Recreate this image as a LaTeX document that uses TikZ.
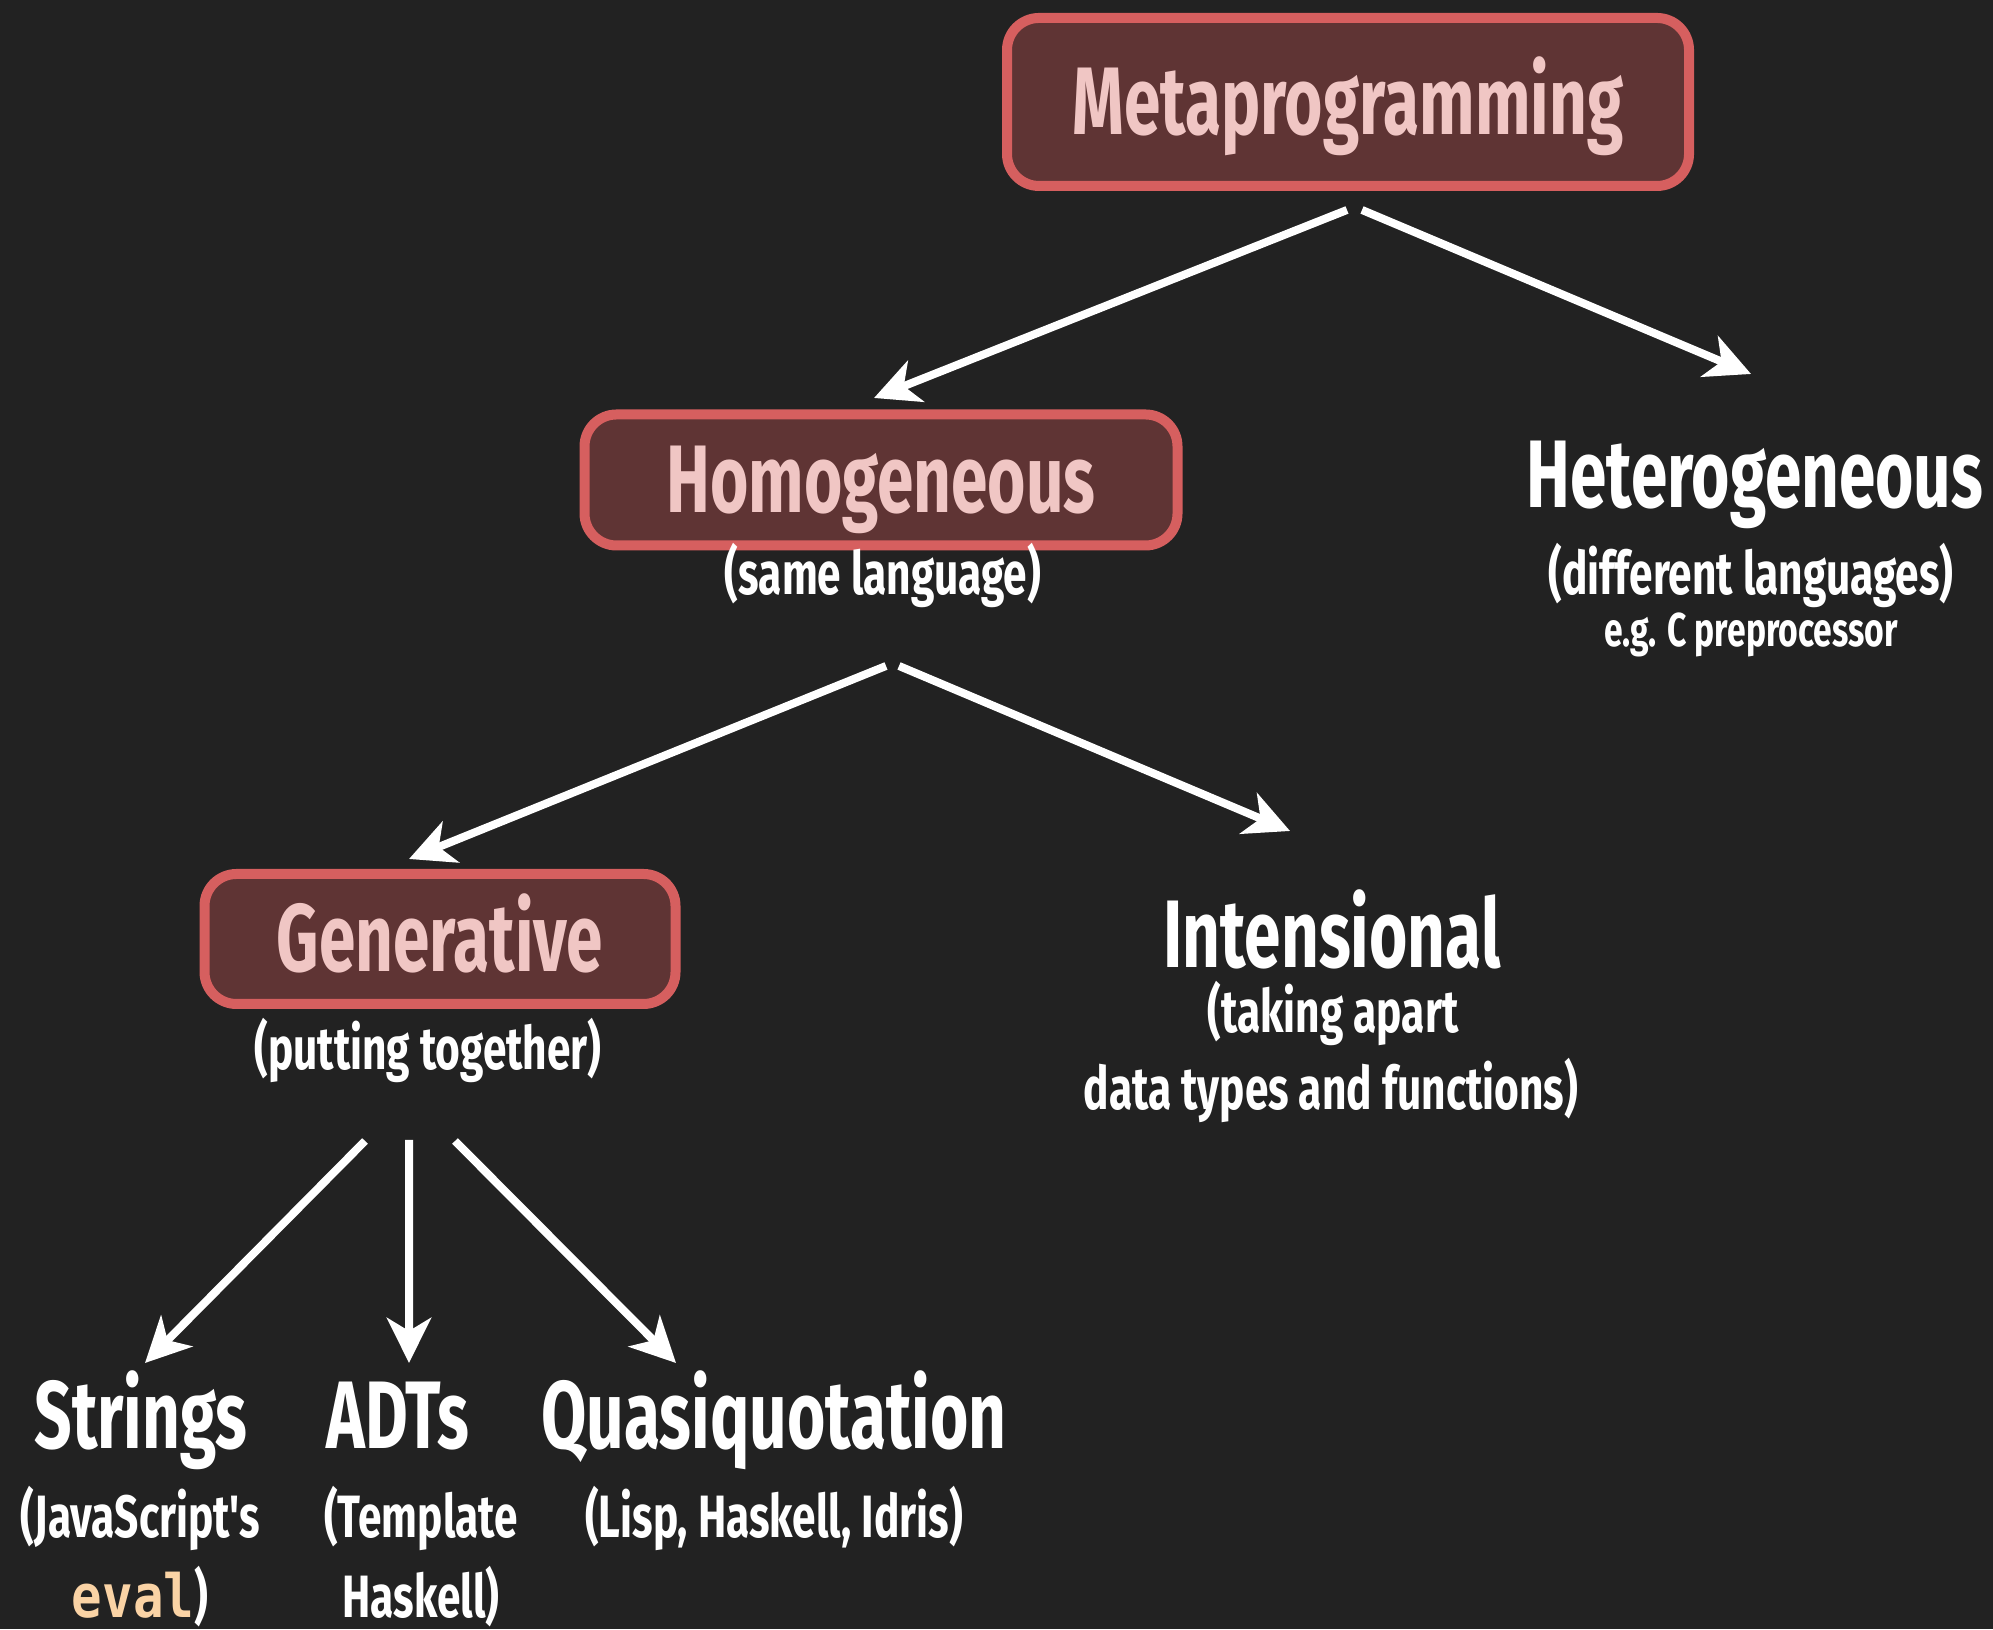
\documentclass[tikz,border=0pt]{standalone}
\usepackage{fontspec}
\usepackage{xcolor}
\usepackage{tikz}
\usetikzlibrary{arrows.meta,positioning,calc}

\newfontfamily\dinfont{Fira Sans}[FakeStretch=0.71]
\newfontfamily\dinhead{Fira Sans}[FakeStretch=0.685]
\newfontfamily\evalfont{DejaVu Sans Mono}[FakeStretch=0.85]
\newcommand{\mtitle}{\dinhead\bfseries\fontsize{27.3}{30}\selectfont}
\newcommand{\mnote}{\dinfont\bfseries\fontsize{17}{20}\selectfont}
\newcommand{\msmall}{\dinfont\bfseries\fontsize{13.5}{16}\selectfont}

\definecolor{bgdark}{HTML}{222222}
\definecolor{boxfill}{HTML}{5F3434}
\definecolor{boxedge}{HTML}{D65F5F}
\definecolor{boxtext}{HTML}{F0C6C4}
\definecolor{evalcol}{HTML}{FAD3A5}

\begin{document}
\begin{tikzpicture}[
    kind/.style={draw=boxedge, fill=boxfill, line width=0.1cm, rounded corners=0.32cm,
        text=boxtext, font=\mtitle, inner sep=0pt, text height=0.66cm, text depth=0pt},
    title/.style={text=white, font=\mtitle, inner sep=0pt, anchor=base},
    note/.style={text=white, font=\mnote, inner sep=0pt, anchor=base},
    small/.style={text=white, font=\msmall, inner sep=0pt, anchor=base},
    arrow/.style={-{Stealth[length=0.45cm, width=0.44cm, inset=0.13cm]}, line width=0.08cm, white}
]

% Background
\fill[bgdark] (0,0) rectangle (19.93,16.29);
\useasboundingbox (0,0) rectangle (19.93,16.29);

% Root
\node[kind, minimum width=6.82cm, minimum height=1.68cm] (meta) at (13.48,15.27) {Metaprogramming};

% Second level
\node[kind, minimum width=5.93cm, minimum height=1.31cm] (homog) at (8.81,11.49) {Homogeneous};
\node[note] (homogsub) at (8.83,10.34) {(same language)};

\node[title] (hetero) at (17.55,11.21) {Heterogeneous};
\node[note] (heterosub) at (17.51,10.34) {(different languages)};
\node[small] (heteroeg) at (17.51,9.82) {e.g. C preprocessor};

% Third level
\node[kind, minimum width=4.71cm, minimum height=1.30cm] (gen) at (4.40,6.90) {Generative};
\node[note] (gensub) at (4.28,5.59) {(putting together)};

\node[title] (intens) at (13.32,6.61) {Intensional};
\node[note] (intenssub) at (13.33,5.96) {(taking apart};
\node[note] (intenssubb) at (13.31,5.19) {data types and functions)};

% Leaves
\node[title] (strings) at (1.41,1.80) {Strings};
\node[note] (stringssub) at (1.40,0.91) {(JavaScript's};
\node[note] (stringssubb) at (1.40,0.12) {{\evalfont\color{evalcol}eval})};

\node[title] (adts) at (3.98,1.80) {ADTs};
\node[note] (adtssub) at (4.21,0.91) {(Template};
\node[note] (adtssubb) at (4.21,0.12) {Haskell)};

\node[title] (quasi) at (7.74,1.80) {Quasiquotation};
\node[note] (quasisub) at (7.74,0.91) {(Lisp, Haskell, Idris)};

% Arrows
\draw[arrow] ($(meta.center)+(-0.01,-1.08)$) -- ($(homog.center)+(-0.07,0.82)$);
\draw[arrow] ($(meta.center)+(0.14,-1.08)$) -- ($(hetero.base)+(-0.04,1.34)$);
\draw[arrow] ($(homogsub.base)+(0.03,-0.71)$) -- ($(gen.center)+(-0.31,0.80)$);
\draw[arrow] ($(homogsub.base)+(0.16,-0.71)$) -- ($(intens.base)+(-0.42,1.37)$);
\draw[arrow] ($(gensub.base)+(-0.63,-0.71)$) -- ($(strings.base)+(0.04,0.86)$);
\draw[arrow] ($(gensub.base)+(-0.19,-0.70)$) -- ($(adts.base)+(0.11,0.86)$);
\draw[arrow] ($(gensub.base)+(0.27,-0.71)$) -- ($(quasi.base)+(-0.98,0.86)$);

\end{tikzpicture}
\end{document}
